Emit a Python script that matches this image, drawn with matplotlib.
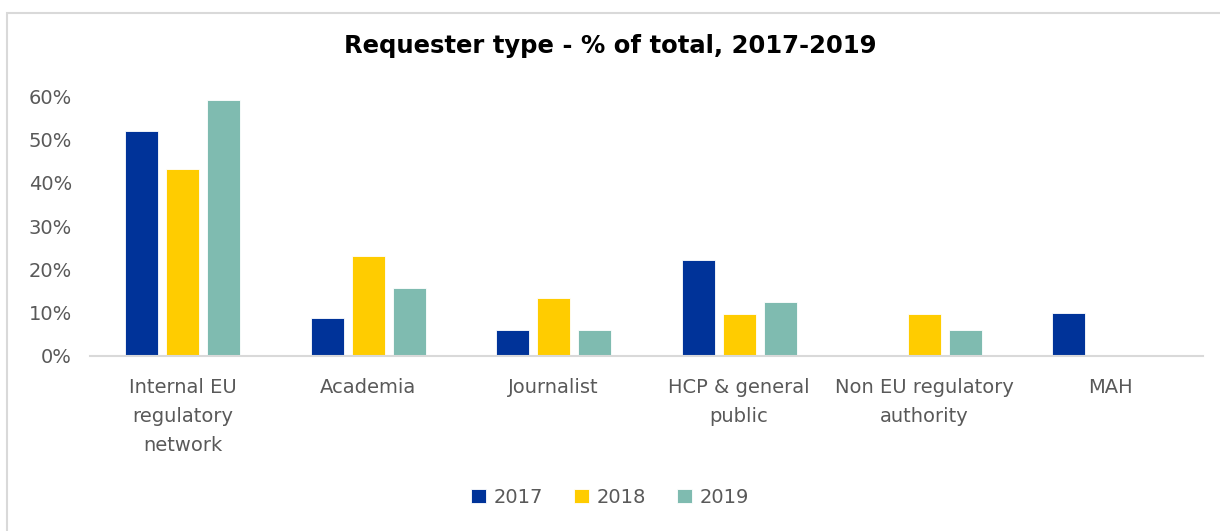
import matplotlib.pyplot as plt
from matplotlib.patches import Rectangle
import numpy as np

categorias = ['Internal EU\nregulatory\nnetwork', 'Academia', 'Journalist',
              'HCP & general\npublic', 'Non EU regulatory\nauthority', 'MAH']
anios = ['2017', '2018', '2019']
v2017 = [0.52, 0.087, 0.06, 0.221, 0.0, 0.10]
v2018 = [0.431, 0.23, 0.133, 0.096, 0.096, 0.0]
v2019 = [0.592, 0.156, 0.06, 0.124, 0.06, 0.0]
colores = ['#003399', '#FFCC00', '#7FBBB0']

fig = plt.figure(figsize=(12.2, 5.31), dpi=100)
ax = fig.add_axes([0.0738, 0.3296, 0.912, 0.4894])

# marco exterior del grafico
fig.patches.append(Rectangle((7 / 1220, -0.1), 1.2, (531 - 13) / 531 + 0.1,
                             transform=fig.transFigure, fill=False,
                             edgecolor='#D9D9D9', linewidth=1.5))

x = np.arange(len(categorias))
ancho = 0.178
paso = 0.221
for i, (vals, anio) in enumerate(zip([v2017, v2018, v2019], anios)):
    ax.bar(x + (i - 1) * paso, vals, ancho, color=colores[i], label=anio,
           edgecolor='white', linewidth=0.6)

ax.set_xlim(-0.5, len(categorias) - 0.5)
ax.set_ylim(0, 0.6)
ax.set_yticks(np.arange(0, 0.61, 0.1))
ax.set_yticklabels([f'{int(round(t * 100))}%' for t in np.arange(0, 0.61, 0.1)])
ax.set_xticks(x)
ax.set_xticklabels(categorias, linespacing=1.66)
ax.tick_params(axis='both', length=0, labelsize=14, colors='#595959')
ax.tick_params(axis='x', pad=16)
ax.tick_params(axis='y', pad=13)
for lado in ['top', 'right', 'left']:
    ax.spines[lado].set_visible(False)
ax.spines['bottom'].set_color('#D9D9D9')
ax.spines['bottom'].set_linewidth(1.5)

fig.text(0.5, 0.913, 'Requester type - % of total, 2017-2019', ha='center',
         va='center', fontsize=17.5, fontweight='bold', color='black')

leg = fig.legend(loc='center', bbox_to_anchor=(0.5, 0.063), ncol=3, frameon=False,
                 fontsize=14, handlelength=0.75, handleheight=0.75,
                 columnspacing=1.6, handletextpad=0.4)
for t in leg.get_texts():
    t.set_color('#595959')

fig.savefig('out.png', dpi=100)
